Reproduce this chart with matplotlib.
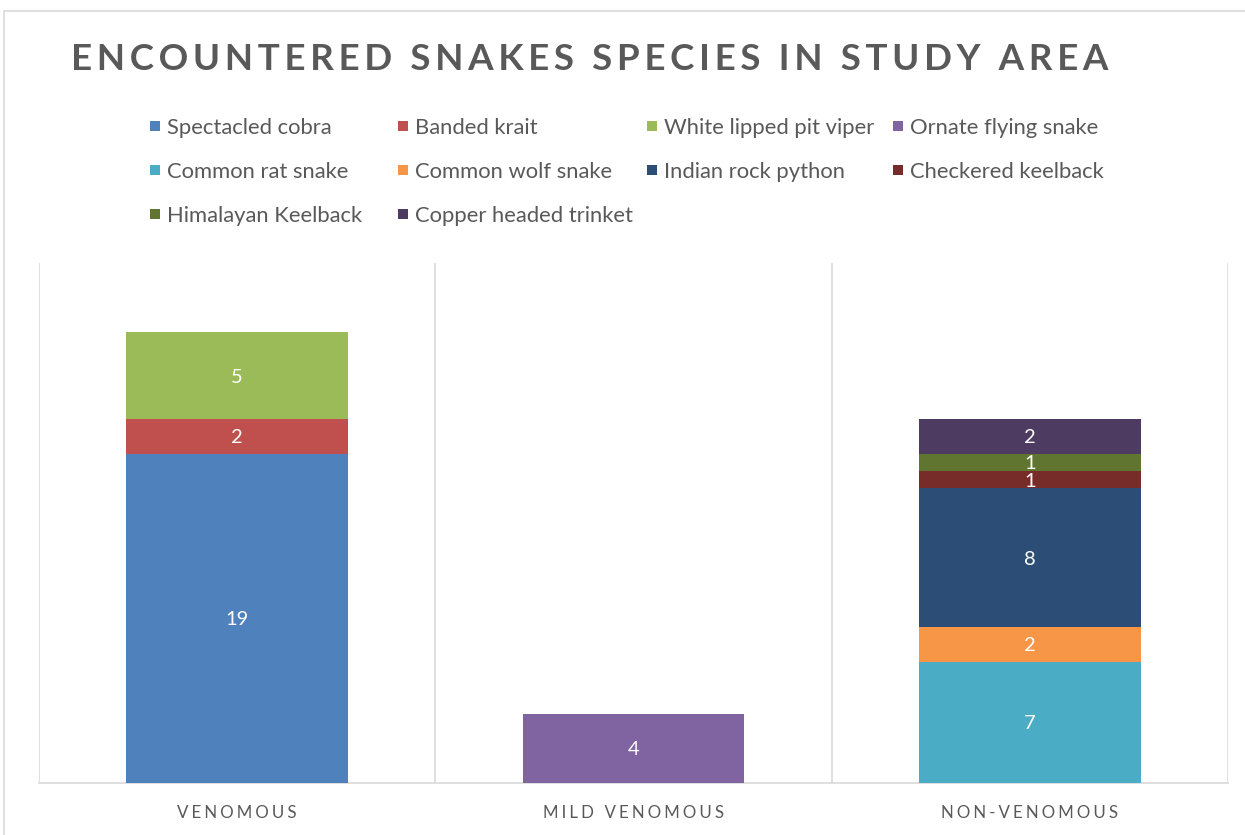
import matplotlib
matplotlib.use("Agg")
import matplotlib.pyplot as plt
from matplotlib.patches import Rectangle
import numpy as np

plt.rcParams['font.family'] = ['Lato', 'DejaVu Sans']

categories = ["VENOMOUS", "MILD VENOMOUS", "NON-VENOMOUS"]
series_names = ["Spectacled cobra", "Banded krait", "White lipped pit viper", "Ornate flying snake",
                "Common rat snake", "Common wolf snake", "Indian rock python", "Checkered keelback",
                "Himalayan Keelback", "Copper headed trinket"]
spectacled_cobra = [19, 0, 0]
banded_krait = [2, 0, 0]
white_lipped_pit_viper = [5, 0, 0]
ornate_flying_snake = [0, 4, 0]
common_rat_snake = [0, 0, 7]
common_wolf_snake = [0, 0, 2]
indian_rock_python = [0, 0, 8]
checkered_keelback = [0, 0, 1]
himalayan_keelback = [0, 0, 1]
copper_headed_trinket = [0, 0, 2]
values = [spectacled_cobra, banded_krait, white_lipped_pit_viper, ornate_flying_snake,
          common_rat_snake, common_wolf_snake, indian_rock_python, checkered_keelback,
          himalayan_keelback, copper_headed_trinket]
colors = ["#4F81BD", "#C0504D", "#9BBB59", "#8064A2", "#4BACC6", "#F79646",
          "#2C4D75", "#772C2A", "#5F7530", "#4D3B62"]

W, H = 1245, 835
fig = plt.figure(figsize=(W/100, H/100), dpi=100)
fig.patch.set_facecolor("white")
# chart border
fig.add_artist(Rectangle((4/W, -0.01), 1.02, 1 - 11/H + 0.01, transform=fig.transFigure,
                         fill=False, edgecolor="#d9d9d9", linewidth=1.2))

ax = fig.add_axes([39/W, 1 - 783/H, (1228-39)/W, (783-263)/H])
x = np.arange(len(categories))
bottom = np.zeros(len(categories))
for name, vals, c in zip(series_names, values, colors):
    vals = np.array(vals, dtype=float)
    ax.bar(x, vals, 0.56, bottom=bottom, color=c, label=name, zorder=3)
    for xi, v, b in zip(x, vals, bottom):
        if v > 0:
            ax.text(xi, b + v/2, f"{int(v)}", ha="center", va="center_baseline", color="white",
                    fontsize=14.5, zorder=4)
    bottom += vals

ax.set_xlim(-0.5, 2.5)
ax.set_ylim(0, 30)
for b in np.arange(-0.5, 3.0, 1.0):
    ax.axvline(b, color="#d9d9d9", linewidth=1.2, zorder=1)
for s in ["top", "left", "right"]:
    ax.spines[s].set_visible(False)
ax.spines["bottom"].set_color("#d9d9d9")
ax.spines["bottom"].set_linewidth(1.2)
ax.set_yticks([])
ax.set_xticks(x)
spaced = ["\u2009\u200a".join(list(c)) for c in categories]
ax.set_xticklabels(spaced, fontsize=12.2, color="#595959")
ax.tick_params(axis="x", length=0, pad=16)

title = "ENCOUNTERED SNAKES SPECIES IN STUDY AREA"
fig.text(590/W, 1 - 59/H, "\u2009".join(list(title)), ha="center", va="center",
         fontsize=26.5, fontweight="bold", color="#595959")

# legend: 4 fixed-width columns, row-major order
col_x = [150, 398, 647, 893]
row_y = [126, 170, 214]
for i, (name, c) in enumerate(zip(series_names, colors)):
    r, cidx = divmod(i, 4)
    px, py = col_x[cidx], row_y[r]
    fig.add_artist(Rectangle((px/W, 1 - (py + 5)/H), 10/W, 10/H, transform=fig.transFigure,
                             facecolor=c, edgecolor="none"))
    fig.text((px + 17)/W, 1 - py/H, name, ha="left", va="center_baseline", fontsize=15.8,
             color="#595959")

fig.savefig("out.png", dpi=100, facecolor="white")
